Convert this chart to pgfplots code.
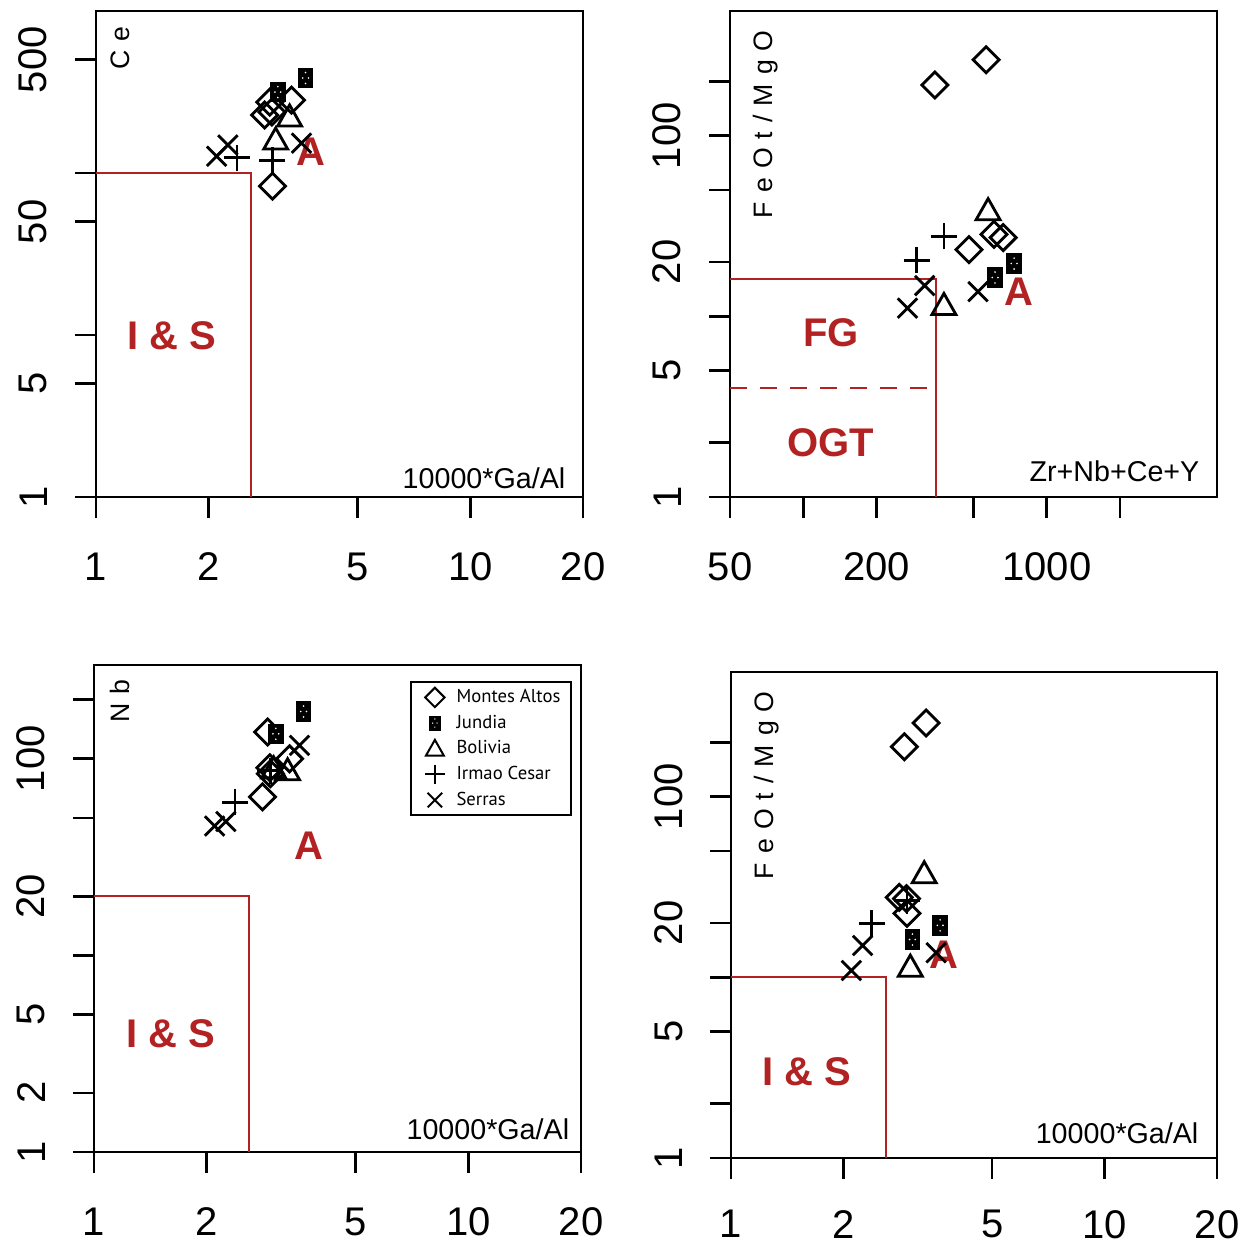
\documentclass[border=0pt]{standalone}
\usepackage{fontspec}
\setmainfont{Liberation Sans}
\newfontfamily\spaced[LetterSpace=34]{Liberation Sans}
\newfontfamily\legfont{PT Sans}
\usepackage{pgfplots}
\pgfplotsset{compat=1.18}
\definecolor{isred}{HTML}{B22222}

\newcommand\tickfont{\fontsize{12}{12}\selectfont}
\newcommand\lblfont{\fontsize{8.6}{9}\selectfont}
\newcommand\fieldfont{\fontsize{12}{12}\selectfont\bfseries}
\newcommand\varfont{\spaced\fontsize{8}{8}\selectfont}

% R style symbols
\pgfdeclareplotmark{rdia}{%
  \pgfpathmoveto{\pgfqpoint{0pt}{\pgfplotmarksize}}%
  \pgfpathlineto{\pgfqpoint{\pgfplotmarksize}{0pt}}%
  \pgfpathlineto{\pgfqpoint{0pt}{-\pgfplotmarksize}}%
  \pgfpathlineto{\pgfqpoint{-\pgfplotmarksize}{0pt}}%
  \pgfpathclose\pgfusepathqstroke}
\pgfdeclareplotmark{rtri}{%
  \pgfpathmoveto{\pgfqpoint{0pt}{0.92\pgfplotmarksize}}%
  \pgfpathlineto{\pgfqpoint{0.92\pgfplotmarksize}{-0.7\pgfplotmarksize}}%
  \pgfpathlineto{\pgfqpoint{-0.92\pgfplotmarksize}{-0.7\pgfplotmarksize}}%
  \pgfpathclose\pgfusepathqstroke}
\pgfdeclareplotmark{rplus}{%
  \pgfpathmoveto{\pgfqpoint{-\pgfplotmarksize}{0pt}}%
  \pgfpathlineto{\pgfqpoint{\pgfplotmarksize}{0pt}}%
  \pgfpathmoveto{\pgfqpoint{0pt}{-\pgfplotmarksize}}%
  \pgfpathlineto{\pgfqpoint{0pt}{\pgfplotmarksize}}%
  \pgfusepathqstroke}
\pgfdeclareplotmark{rx}{%
  \pgfpathmoveto{\pgfqpoint{-0.75\pgfplotmarksize}{-0.75\pgfplotmarksize}}%
  \pgfpathlineto{\pgfqpoint{0.75\pgfplotmarksize}{0.75\pgfplotmarksize}}%
  \pgfpathmoveto{\pgfqpoint{-0.75\pgfplotmarksize}{0.75\pgfplotmarksize}}%
  \pgfpathlineto{\pgfqpoint{0.75\pgfplotmarksize}{-0.75\pgfplotmarksize}}%
  \pgfusepathqstroke}
\pgfdeclareplotmark{jund}{%
  \begin{pgfscope}
  \pgfsetfillcolor{black}%
  \pgfpathrectanglecorners{\pgfqpoint{-0.6\pgfplotmarksize}{-0.78\pgfplotmarksize}}{\pgfqpoint{0.6\pgfplotmarksize}{0.78\pgfplotmarksize}}%
  \pgfusepathqfill
  \pgfsetfillcolor{white}%
  \pgfpathcircle{\pgfqpoint{0pt}{0.42\pgfplotmarksize}}{0.07\pgfplotmarksize}%
  \pgfpathcircle{\pgfqpoint{0pt}{-0.42\pgfplotmarksize}}{0.07\pgfplotmarksize}%
  \pgfpathcircle{\pgfqpoint{-0.22\pgfplotmarksize}{0pt}}{0.07\pgfplotmarksize}%
  \pgfpathcircle{\pgfqpoint{0.22\pgfplotmarksize}{0pt}}{0.07\pgfplotmarksize}%
  \pgfusepathqfill
  \end{pgfscope}}

\pgfplotsset{
  panel/.style={
    scale only axis, anchor=south west,
    enlargelimits=false,
    axis line style={line width=0.8pt},
    tick align=outside, xtick pos=left, ytick pos=left,
    major tick length=6.3pt,
    every tick/.style={black, line width=0.8pt},
    xminorticks=false, yminorticks=false,
    xticklabel style={font=\tickfont, anchor=north, inner sep=0pt},
    yticklabel style={font=\tickfont, rotate=90, anchor=south, inner sep=0pt},
    xticklabel shift=10.2pt, yticklabel shift=8.1pt,
    mark size=3.9pt,
    every axis plot/.append style={black, line width=0.85pt},
  },
  gaal/.style={xmin=1, xmax=20, xtick={1,2,5,10,20}, xticklabels={1,2,5,10,20}},
  fieldline/.style={isred, line width=0.6pt, forget plot, mark=none, solid},
  sMA/.style={only marks, mark=rdia},
  sJU/.style={only marks, mark=jund},
  sBO/.style={only marks, mark=rtri},
  sIC/.style={only marks, mark=rplus},
  sSE/.style={only marks, mark=rx},
}
\tikzset{fieldlab/.style={font=\fieldfont, text=isred}}

\begin{document}
\begin{tikzpicture}
\useasboundingbox (0,0) rectangle (376.2pt,373.2pt);

% ---- top left: Ce vs Ga/Al
\begin{loglogaxis}[panel, gaal, at={(28.8pt,224.1pt)}, width=146.1pt, height=145.8pt,
    ymin=1, ymax=1000, ytick={1,5,10,50,100,500}, yticklabels={1,5,,50,,500}]
  \addplot[fieldline] coordinates {(1,100) (2.6,100) (2.6,1)};
  \addplot[sMA] coordinates {(3.33,282) (2.91,274) (2.82,228) (2.95,238) (2.96,83)};
  \addplot[sJU] coordinates {(3.63,386) (3.06,316)};
  \addplot[sBO] coordinates {(3.29,222) (3.02,160)};
  \addplot[sIC] coordinates {(2.38,124) (2.96,120)};
  \addplot[sSE] coordinates {(2.25,149) (2.10,127) (3.54,153)};
  \node[rotate=90, font=\varfont] at (rel axis cs:0.049,0.924) {Ce};
  \node[font=\lblfont, anchor=east, inner sep=0pt] at (rel axis cs:0.965,0.039) {10000*Ga/Al};
  \node[fieldlab] at (rel axis cs:0.4415,0.710) {A};
  \node[fieldlab] at (rel axis cs:0.156,0.331) {I \& S};
\end{loglogaxis}

% ---- top right: FeOt/MgO vs Zr+Nb+Ce+Y
\begin{loglogaxis}[panel, at={(219pt,224.1pt)}, width=146.1pt, height=145.8pt,
    xmin=50, xmax=5000, xtick={50,100,200,500,1000,2000}, xticklabels={50,,200,,1000,},
    ymin=1, ymax=490, ytick={1,2,5,10,20,50,100,200}, yticklabels={1,,5,,20,,100,}]
  \addplot[fieldline] coordinates {(50,16) (350,16) (350,1)};
  \addplot[fieldline, dash pattern=on 5pt off 4pt] coordinates {(50,4) (350,4)};
  \addplot[sMA] coordinates {(347,191) (563,263) (479,23.4) (607,28.4) (662,27.3)};
  \addplot[sJU] coordinates {(734,19.6) (613,16.4)};
  \addplot[sBO] coordinates {(574,38.5) (378,11.5)};
  \addplot[sIC] coordinates {(378,27.7) (292,20.4)};
  \addplot[sSE] coordinates {(315,14.8) (268,11.1) (522,13.7)};
  \node[rotate=90, font=\varfont] at (rel axis cs:0.074,0.767) {FeOt/MgO};
  \node[font=\lblfont, anchor=east, inner sep=0pt] at (rel axis cs:0.965,0.053) {Zr+Nb+Ce+Y};
  \node[fieldlab] at (rel axis cs:0.593,0.422) {A};
  \node[fieldlab] at (rel axis cs:0.207,0.337) {FG};
  \node[fieldlab] at (rel axis cs:0.207,0.111) {OGT};
\end{loglogaxis}

% ---- bottom left: Nb vs Ga/Al
\begin{loglogaxis}[panel, gaal, at={(28.2pt,27.6pt)}, width=146.1pt, height=146.1pt,
    ymin=1, ymax=300, ytick={1,2,5,10,20,50,100,200}, yticklabels={1,2,5,,20,,100,},
    legend style={at={(0.9815,0.967)}, anchor=north east, draw=black, line width=0.6pt,
      font=\legfont\fontsize{5.6}{6}\selectfont, inner xsep=2.6pt, inner ysep=1.3pt,
      row sep=1.1pt, nodes={inner sep=0.6pt, text height=4.2pt, text depth=1.2pt}},
    legend cell align=left,
    legend image code/.code={\path (-4.2pt,0pt) (5.6pt,0pt); \draw[#1] plot coordinates {(0pt,0pt)};},
    every legend image post/.style={mark size=2.9pt, line width=0.6pt}]
  \addplot[fieldline] coordinates {(1,20) (2.6,20) (2.6,1)};
  \addplot[sMA] coordinates {(3.33,100) (2.91,137) (2.82,64) (2.95,90) (2.96,84)};
  \addlegendentry{Montes Altos}
  \addplot[sJU] coordinates {(3.63,174) (3.06,134)};
  \addlegendentry{Jundia}
  \addplot[sBO] coordinates {(3.29,87) (3.02,89)};
  \addlegendentry{Bolivia}
  \addplot[sIC] coordinates {(2.38,60) (2.96,87)};
  \addlegendentry{Irmao Cesar}
  \addplot[sSE] coordinates {(2.25,48) (2.10,45.5) (3.54,117)};
  \addlegendentry{Serras}
  \node[rotate=90, font=\varfont] at (rel axis cs:0.053,0.926) {Nb};
  \node[font=\lblfont, anchor=east, inner sep=0pt] at (rel axis cs:0.977,0.047) {10000*Ga/Al};
  \node[fieldlab] at (rel axis cs:0.441,0.628) {A};
  \node[fieldlab] at (rel axis cs:0.158,0.242) {I \& S};
\end{loglogaxis}

% ---- bottom right: FeOt/MgO vs Ga/Al
\begin{loglogaxis}[panel, gaal, at={(219.3pt,25.8pt)}, width=145.8pt, height=145.8pt,
    xticklabel shift=9.2pt,
    ymin=1, ymax=490, ytick={1,2,5,10,20,50,100,200}, yticklabels={1,,5,,20,,100,}]
  \addplot[fieldline] coordinates {(1,10) (2.6,10) (2.6,1)};
  \addplot[sMA] coordinates {(3.33,256) (2.91,189) (2.82,27.7) (2.95,27.3) (2.96,22.6)};
  \addplot[sJU] coordinates {(3.63,19.4) (3.06,16.2)};
  \addplot[sBO] coordinates {(3.29,37.5) (3.02,11.4)};
  \addplot[sIC] coordinates {(2.38,19.9) (2.96,26.6)};
  \addplot[sSE] coordinates {(2.25,15.0) (2.10,10.9) (3.54,13.7)};
  \node[rotate=90, font=\varfont] at (rel axis cs:0.074,0.767) {FeOt/MgO};
  \node[font=\lblfont, anchor=east, inner sep=0pt] at (rel axis cs:0.963,0.051) {10000*Ga/Al};
  \node[fieldlab] at (rel axis cs:0.438,0.418) {A};
  \node[fieldlab] at (rel axis cs:0.156,0.177) {I \& S};
\end{loglogaxis}
\end{tikzpicture}
\end{document}
